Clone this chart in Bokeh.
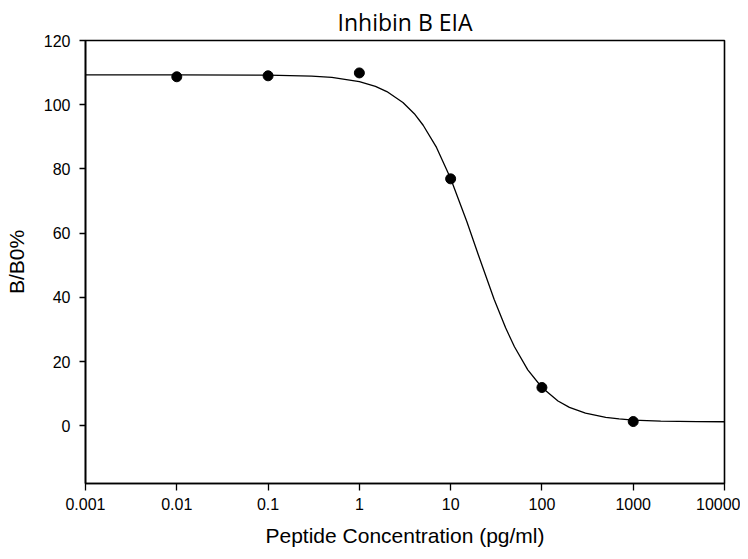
from bokeh.plotting import figure
from bokeh.models import FixedTicker, Range1d
from bokeh.embed import file_html
from bokeh.resources import INLINE

# measured points
conc = [0.01, 0.1, 1, 10, 100, 1000]
bb0 = [108.7, 109.0, 109.9, 76.9, 11.9, 1.3]

# fitted curve
curve_x = [0.001, 0.01, 0.1, 0.3, 0.5, 1, 1.5, 2, 3, 4, 5, 7, 10, 15, 20, 30, 40, 50,
           70, 100, 150, 200, 300, 500, 700, 1000, 2000, 5000, 10000]
curve_y = [109.3, 109.3, 109.2, 108.9, 108.5, 107.2, 105.7, 104.1, 100.7, 97.2, 93.6, 86.7,
           77.0, 63.7, 53.4, 39.3, 30.5, 24.6, 17.4, 11.9, 7.7, 5.7, 3.9, 2.6, 2.1, 1.75,
           1.42, 1.27, 1.23]

x_ticks = [0.001, 0.01, 0.1, 1, 10, 100, 1000, 10000]
x_tick_labels = ["0.001", "0.01", "0.1", "1", "10", "100", "1000", "10000"]
y_ticks = [0, 20, 40, 60, 80, 100, 120]

p = figure(width=740, height=551, x_axis_type="log",
           x_range=Range1d(0.001, 10000), y_range=Range1d(-18, 120),
           output_backend="svg", toolbar_location=None,
           title="Inhibin B EIA",
           x_axis_label="Peptide Concentration (pg/ml)", y_axis_label="B/B0%")

p.min_border_left = 85
p.min_border_right = 16
p.min_border_top = 34
p.min_border_bottom = 68

p.title.align = "center"
p.title.text_font = "Open Sans"
p.title.text_font_size = "23px"
p.title.text_font_style = "normal"
p.title.text_color = "black"
p.title.text_line_height = 0.8
p.title.standoff = 6

p.xgrid.visible = False
p.ygrid.visible = False
p.outline_line_color = "black"
p.outline_line_width = 1.6
p.outline_line_alpha = 1.0
p.background_fill_color = "white"
p.border_fill_color = "white"

for ax in (p.xaxis[0], p.yaxis[0]):
    ax.axis_line_color = "black"
    ax.axis_line_width = 1.6
    ax.major_tick_line_color = "black"
    ax.major_tick_line_width = 1.3
    ax.major_tick_in = 0
    ax.major_tick_out = 7
    ax.minor_tick_line_color = None
    ax.major_label_text_font = "Liberation Sans"
    ax.major_label_text_font_size = "16px"
    ax.major_label_text_color = "black"
    ax.axis_label_text_font = "Liberation Sans"
    ax.axis_label_text_font_size = "21px"
    ax.axis_label_text_font_style = "normal"
    ax.axis_label_text_color = "black"

p.xaxis[0].ticker = FixedTicker(ticks=x_ticks)
p.xaxis[0].major_label_overrides = {t: l for t, l in zip(x_ticks, x_tick_labels)}
p.xaxis[0].major_label_standoff = 7
p.xaxis[0].axis_label_standoff = 11
p.yaxis[0].ticker = FixedTicker(ticks=y_ticks)
p.yaxis[0].major_tick_out = 6
p.yaxis[0].major_label_standoff = 9
p.yaxis[0].axis_label_standoff = 13

p.line(curve_x, curve_y, line_color="black", line_width=1.3)
p.scatter(conc, bb0, size=10, fill_color="black", line_color="black")

open("out.html", "w").write(file_html(p, INLINE))
